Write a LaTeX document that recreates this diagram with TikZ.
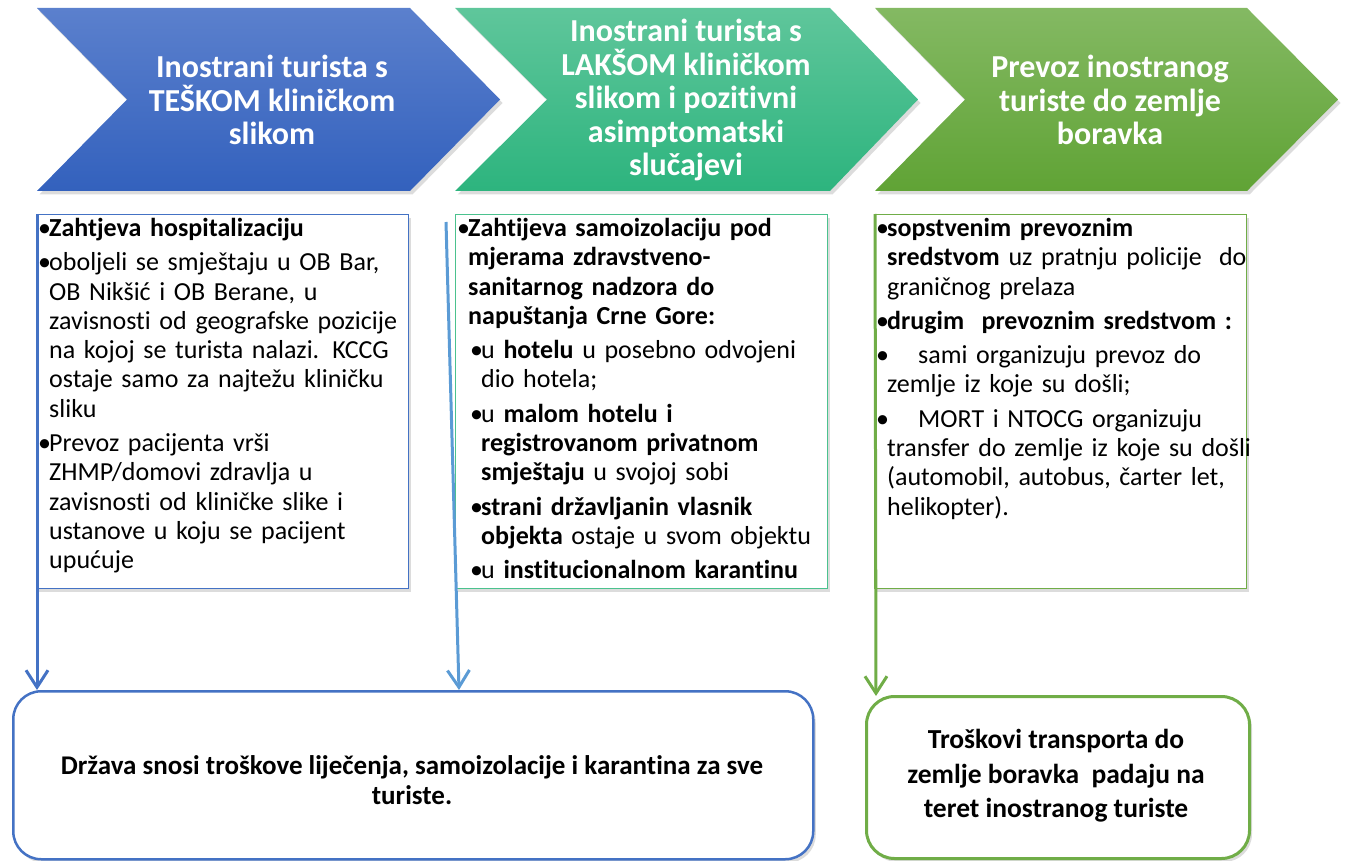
\documentclass[tikz,border=0pt]{standalone}
\usepackage{fontspec}
\setmainfont{Carlito}[Ligatures={NoCommon,NoContextual},Contextuals=NoAlternate]
\usetikzlibrary{arrows.meta,shadows}
\definecolor{bluetop}{HTML}{5B80CD}
\definecolor{bluebot}{HTML}{3361BD}
\definecolor{tealtop}{HTML}{5FC69B}
\definecolor{tealbot}{HTML}{2DB47E}
\definecolor{greentop}{HTML}{84B963}
\definecolor{greenbot}{HTML}{60A335}
\definecolor{bluec}{HTML}{4472C4}
\definecolor{lightbluec}{HTML}{5B9BD5}
\definecolor{tealc}{HTML}{4BC28E}
\definecolor{greenc}{HTML}{70AD47}
\newcommand\bitem[2][11pt]{\par\hangindent=#1\hangafter=1\noindent\makebox[#1][l]{•}#2}
\newcommand\bsub[1]{\par{\leftskip=13pt\hangindent=11pt\hangafter=1\noindent\makebox[11pt][l]{•}#1\par}}
\begin{document}
\begin{tikzpicture}[x=1pt,y=-1pt,
  shad/.style={drop shadow={opacity=0.28,shadow xshift=2.5pt,shadow yshift=-3.5pt}},
  chev/.style={shad},
  ctext/.style={text=white,font=\bfseries\fontsize{32}{33.5}\selectfont,align=center,inner sep=0},
  tbox/.style={fill=white,line width=1.4pt,shad,anchor=north west,inner sep=0,minimum width=372,minimum height=374},
  btext/.style={anchor=north west,inner sep=0,text width=420,align=left,font=\fontsize{26}{29.3}\selectfont},
  rbox/.style={fill=white,rounded corners=28pt,shad,anchor=north west,inner sep=0},
  rtext/.style={font=\bfseries\fontsize{27}{30}\selectfont,align=center,inner sep=0},
  conn/.style={line width=3pt,-{Straight Barb[length=17pt,width=22pt]}}
]
\useasboundingbox (0,0) rectangle (1346,861);
% chevrons
\path[chev,top color=bluetop,bottom color=bluebot] (37,8) -- (410,8) -- (500,99.5) -- (410,191) -- (37,191) -- (127,99.5) -- cycle;
\path[chev,top color=tealtop,bottom color=tealbot] (455,8) -- (830,8) -- (918,99.5) -- (830,191) -- (455,191) -- (547,99.5) -- cycle;
\path[chev,top color=greentop,bottom color=greenbot] (875,8) -- (1247,8) -- (1338,99.5) -- (1247,191) -- (875,191) -- (965,99.5) -- cycle;
\node[ctext] (c1) at (272,100) {Inostrani turista s\\TEŠKOM kliničkom\\slikom};
\node[ctext] (c2) at (686,100) {Inostrani turista s\\LAKŠOM kliničkom\\slikom i pozitivni\\asimptomatski\\slučajevi};
\node[ctext] (c3) at (1110,100) {Prevoz inostranog\\turiste do zemlje\\boravka};
% text boxes
\node[tbox,draw=bluec] (t1) at (36,214) {};
\node[tbox,draw=tealc] (t2) at (455,214) {};
\node[tbox,draw=greenc] (t3) at (874,214) {};
\node[btext] (t1x) at (38,202) {\parskip=5pt
\bitem{\textbf{Zahtjeva hospitalizaciju}}
\bitem{oboljeli se smještaju u OB Bar,\newline OB Nikšić i OB Berane, u\newline zavisnosti od geografske pozicije\newline na kojoj se turista nalazi. KCCG\newline ostaje samo za najtežu kliničku\newline sliku}
\bitem{Prevoz pacijenta vrši\newline ZHMP/domovi zdravlja u\newline zavisnosti od kliničke slike i\newline ustanove u koju se pacijent\newline upućuje}\par};
\node[btext] (t2x) at (457,202) {\parskip=5pt
\bitem{\textbf{Zahtijeva samoizolaciju pod\newline mjerama zdravstveno-\newline sanitarnog nadzora do\newline napuštanja Crne Gore:}}
\bsub{u \textbf{hotelu} u posebno odvojeni\newline dio hotela;}
\bsub{u \textbf{malom hotelu i\newline registrovanom privatnom\newline smještaju} u svojoj sobi}
\bsub{\textbf{strani državljanin vlasnik\newline objekta} ostaje u svom objektu}
\bsub{u \textbf{institucionalnom karantinu}}};
\node[btext] (t3x) at (876,202) {\parskip=5pt
\bitem{\textbf{sopstvenim prevoznim\newline sredstvom} uz pratnju policije~~do\newline graničnog prelaza}
\bitem{\textbf{drugim~~prevoznim sredstvom :}}
\bitem{\hspace*{31pt}sami organizuju prevoz do\newline zemlje iz koje su došli;}
\bitem{\hspace*{31pt}MORT i NTOCG organizuju\newline transfer do zemlje iz koje su došli\newline (automobil, autobus, čarter let,\newline helikopter).}\par};
% bottom boxes
\node[rbox,draw=bluec,line width=2.5pt,minimum width=800,minimum height=168] (b1) at (12,690) {};
\node[rbox,draw=greenc,line width=3pt,minimum width=383,minimum height=162] (b2) at (865,695) {};
\node[rtext] (b1x) at (412,780) {Država snosi troškove liječenja, samoizolacije i karantina za sve\\turiste.};
\node[rtext,font=\bfseries\fontsize{27.5}{34.5}\selectfont] (b2x) at (1056,776) {Troškovi transporta do\\zemlje boravka~~padaju na\\teret inostranog turiste};
% connectors
\coordinate (s1) at (37,214);
\coordinate (e1) at (37,690);
\coordinate (s2) at (446,222);
\coordinate (e2) at (459,690);
\coordinate (s3) at (875,214);
\coordinate (e3) at (876,696);
\draw[conn,draw=bluec] (s1) -- (e1);
\draw[conn,draw=lightbluec] (s2) -- (e2);
\draw[conn,draw=greenc] (s3) -- (e3);
\end{tikzpicture}
\end{document}
